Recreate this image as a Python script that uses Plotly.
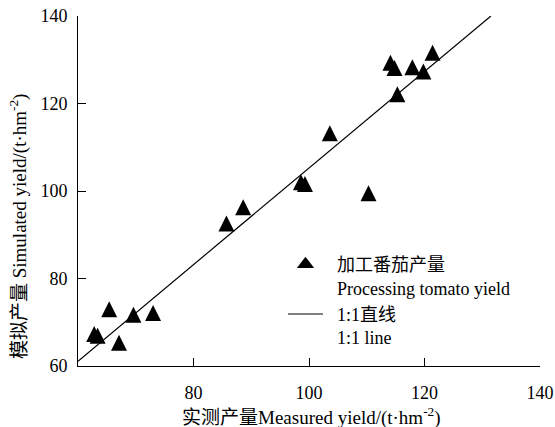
import plotly.graph_objects as go

# Data
measured = [62.8, 63.4, 65.4, 67.1, 69.6, 73.0, 85.7, 88.6, 98.6, 99.3,
            103.6, 110.3, 114.1, 114.8, 115.3, 117.9, 119.8, 121.4]
simulated = [67.3, 66.9, 73.0, 65.3, 71.7, 72.1, 92.6, 96.3, 102.0, 101.6,
             113.2, 99.5, 129.3, 128.1, 122.1, 128.3, 127.3, 131.6]
line_x = [60, 131.5]
line_y = [61.1, 140]
x_ticks = [80, 100, 120, 140]
y_ticks = [60, 80, 100, 120, 140]
axis_range = [60, 140]

W, H = 555, 427
ML, MR, MT, MB = 78, 15, 16, 61
plot_h = H - MT - MB
MS = 16  # marker size (px)
px_per_unit = plot_h / (axis_range[1] - axis_range[0])
shift = (MS / 2) / px_per_unit  # centre the apex-anchored triangle on its value

FONT = "Liberation Serif, Times New Roman, Noto Sans CJK SC, serif"
PAD = "\u00a0\u00a0"

fig = go.Figure()

# data points (apex-anchored triangle drawn on a shifted overlay axis so it is centred)
fig.add_trace(go.Scatter(
    x=measured, y=simulated, mode="markers", yaxis="y2",
    marker=dict(symbol="arrow-up", size=MS, color="black", line=dict(width=0)),
    showlegend=False, hoverinfo="x+y", cliponaxis=False,
))
# legend entry for the points
fig.add_trace(go.Scatter(
    x=[None], y=[None], mode="markers",
    name=PAD + "加工番茄产量<br>" + PAD + "Processing tomato yield",
    marker=dict(symbol="triangle-up", size=15, color="black", line=dict(width=0)),
))
# 1:1 line
fig.add_trace(go.Scatter(
    x=line_x, y=line_y, mode="lines",
    name=PAD + "1:1直线<br>" + PAD + "1:1 line",
    line=dict(color="black", width=1.2),
))

axis_common = dict(
    range=axis_range, showline=True, linecolor="black", linewidth=1,
    ticks="inside", ticklen=8, tickwidth=1, tickcolor="black",
    showgrid=False, zeroline=False, mirror=False, automargin=False,
    tickfont=dict(family=FONT, size=18, color="black"),
)

title_font = dict(family=FONT, size=19, color="black")

fig.update_layout(
    width=W, height=H,
    margin=dict(l=ML, r=MR, t=MT, b=MB, pad=0, autoexpand=False),
    paper_bgcolor="white", plot_bgcolor="white",
    font=dict(family=FONT, color="black"),
    xaxis=dict(**axis_common, tickvals=x_ticks, ticklabelstandoff=10),
    yaxis=dict(**axis_common, tickvals=y_ticks, ticklabelstandoff=6),
    yaxis2=dict(range=[axis_range[0] - shift, axis_range[1] - shift],
                overlaying="y", visible=False, showgrid=False, zeroline=False),
    legend=dict(x=(283 - ML) / 462, y=(366 - 246) / plot_h,
                xanchor="left", yanchor="top",
                bgcolor="rgba(0,0,0,0)", borderwidth=0, valign="top",
                itemwidth=35,
                font=dict(family=FONT, size=18, color="black"),
                tracegroupgap=0, itemclick=False),
    annotations=[
        dict(text="模拟产量 Simulated yield/(t·hm<sup>-2</sup>)",
             xref="paper", yref="paper", x=0, y=(366 - 227) / plot_h,
             xshift=-60, xanchor="center", yanchor="middle", textangle=-90,
             showarrow=False, font=title_font),
        dict(text="实测产量Measured yield/(t·hm<sup>-2</sup>)",
             xref="paper", yref="paper", x=(311 - ML) / 462, y=0,
             yshift=-50, xanchor="center", yanchor="middle",
             showarrow=False, font=title_font),
    ],
)

fig.write_html("out.html")
